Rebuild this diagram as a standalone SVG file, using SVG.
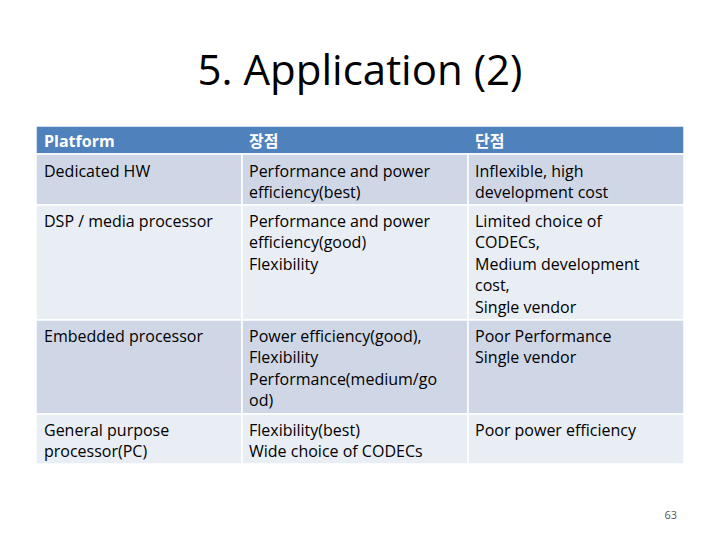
<svg xmlns="http://www.w3.org/2000/svg" width="720" height="540" viewBox="0 0 720 540">
<style>
text{font-family:"Open Sans","Noto Sans CJK KR",sans-serif;font-size:16px;fill:#000}
.h{fill:#fff;font-weight:bold}
.d{fill:#CFD7E6}.l{fill:#E9EDF4}
</style>
<rect width="720" height="540" fill="#fff"/>
<text x="360" y="85" text-anchor="middle" style="font-size:42px">5. Application (2)</text>
<g id="table" stroke="#fff" stroke-width="1.5">
<rect x="36" y="126" width="648" height="28" fill="#4F81BD"/>
<rect class="d" x="36" y="154" width="206" height="51"/><rect class="d" x="242" y="154" width="226" height="51"/><rect class="d" x="468" y="154" width="216" height="51"/>
<rect class="l" x="36" y="205" width="206" height="115"/><rect class="l" x="242" y="205" width="226" height="115"/><rect class="l" x="468" y="205" width="216" height="115"/>
<rect class="d" x="36" y="320" width="206" height="94"/><rect class="d" x="242" y="320" width="226" height="94"/><rect class="d" x="468" y="320" width="216" height="94"/>
<rect class="l" x="36" y="414" width="206" height="50"/><rect class="l" x="242" y="414" width="226" height="50"/><rect class="l" x="468" y="414" width="216" height="50"/>
</g>
<g id="texts">
<text class="h" x="44" y="147">Platform</text><text class="h" x="249" y="147">장점</text><text class="h" x="475" y="147">단점</text>
<text x="44" y="177">Dedicated HW</text>
<text x="249" y="177">Performance and power</text><text x="249" y="198">efficiency(best)</text>
<text x="475" y="177">Inflexible, high</text><text x="475" y="198">development cost</text>
<text x="44" y="227">DSP / media processor</text>
<text x="249" y="227">Performance and power</text><text x="249" y="248">efficiency(good)</text><text x="249" y="270">Flexibility</text>
<text x="475" y="227">Limited choice of</text><text x="475" y="248">CODECs,</text><text x="475" y="270">Medium development</text><text x="475" y="291">cost,</text><text x="475" y="313">Single vendor</text>
<text x="44" y="342">Embedded processor</text>
<text x="249" y="342">Power efficiency(good),</text><text x="249" y="363">Flexibility</text><text x="249" y="385">Performance(medium/go</text><text x="249" y="406">od)</text>
<text x="475" y="342">Poor Performance</text><text x="475" y="363">Single vendor</text>
<text x="44" y="436">General purpose</text><text x="44" y="457">processor(PC)</text>
<text x="249" y="436">Flexibility(best)</text><text x="249" y="457">Wide choice of CODECs</text>
<text x="475" y="436">Poor power efficiency</text>
<text x="677" y="519" text-anchor="end" style="font-size:11px;fill:#555">63</text>
</g>
</svg>
